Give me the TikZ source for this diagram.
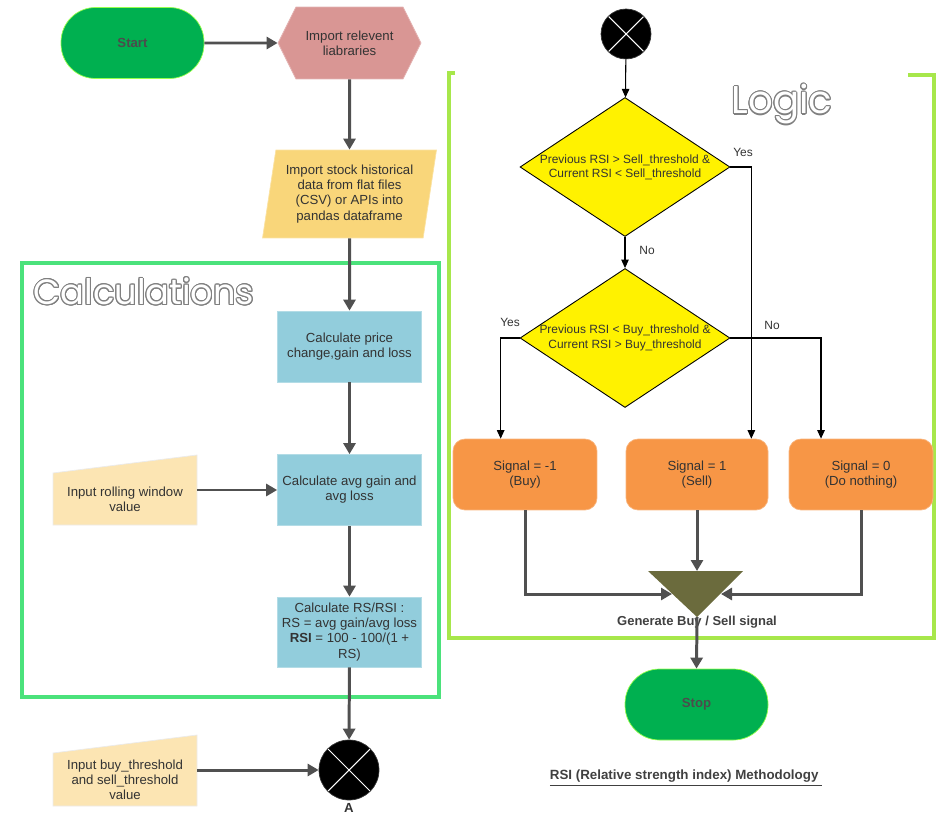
\documentclass[tikz,border=0pt]{standalone}
\usepackage{fontspec}
\setmainfont{Liberation Sans}
\newfontfamily\titlefont{Poppins}
\usepackage[copies]{contour}
\contourlength{0.6pt}
\usetikzlibrary{positioning}
\usetikzlibrary{shapes.geometric, shapes.misc, shapes.symbols}
\usetikzlibrary{arrows.meta}

\definecolor{startgreen}{HTML}{00B050}
\definecolor{libred}{HTML}{D99694}
\definecolor{datayellow}{HTML}{F9D67A}
\definecolor{inputpeach}{HTML}{FCE5B3}
\definecolor{calcblue}{HTML}{92CDDC}
\definecolor{signalorange}{HTML}{F79646}
\definecolor{mergeolive}{HTML}{6B6B3D}
\definecolor{calcframe}{HTML}{4BE27B}
\definecolor{logicframe}{HTML}{A7E74B}
\definecolor{flowgray}{HTML}{505050}
\definecolor{textgray}{HTML}{333333}

\tikzset{
  boxfont/.style={font=\fontsize{7.5}{8.6}\selectfont, text=textgray, align=center, inner sep=1pt},
  lbl/.style={font=\fontsize{6.8}{8}\selectfont, text=black!80},
  terminal/.style={rectangle, rounded corners=0.69cm, fill=startgreen, draw=green!45!lime!70, minimum width=2.86cm, minimum height=1.42cm, font=\fontsize{7.5}{9}\selectfont\bfseries, text=black!70},
  calcbox/.style={boxfont, rectangle, fill=calcblue, draw=calcblue!70!white, minimum width=2.88cm, minimum height=1.42cm},
  signalbox/.style={boxfont, rectangle, rounded corners=0.24cm, fill=signalorange, draw=signalorange!70!white, minimum width=2.88cm, minimum height=1.42cm},
  decision/.style={diamond, aspect=1.51, fill=yellow, draw=black, line width=0.5pt, inner sep=0pt, minimum width=4.2cm, minimum height=2.78cm, font=\fontsize{6.8}{8.1}\selectfont, text=black!80, align=center},
  joint/.style={circle, fill=black, draw=black!80, inner sep=0pt, path picture={\draw[white, line width=0.6pt] (path picture bounding box.north west) -- (path picture bounding box.south east) (path picture bounding box.north east) -- (path picture bounding box.south west);}},
  flow/.style={draw=flowgray, line width=1.7pt, -{Triangle[width=0.24cm,length=0.22cm]}},
  logicflow/.style={draw=black, line width=0.6pt, -{Triangle[width=0.15cm,length=0.17cm]}},
  titlestyle/.style={font=\titlefont\fontsize{20}{20}\selectfont, text=white}
}

\begin{document}
\begin{tikzpicture}[x=0.02cm, y=-0.02cm]
\useasboundingbox (0,0) rectangle (942,831);

% frames
\draw[calcframe, line width=0.08cm] (22,263) rectangle (439,697);
\draw[logicframe, line width=0.08cm] (455,73) -- (449,73) -- (449,638) -- (934,638) -- (934,75) -- (908,75);
\node[titlestyle] (calctitle) at (144,292) {\contour{gray}{Calculations}};
\node[titlestyle, font=\titlefont\fontsize{22}{22}\selectfont] (logictitle) at (782,105) {\contour{gray}{Logic}};

% left column
\node[terminal] (start) at (132.5,43) {Start};
\node[boxfont, signal, signal to=east and west, signal pointer angle=127, fill=libred, draw=libred!70!white, minimum width=2.86cm, minimum height=1.44cm] (libs) at (349.5,43) {Import relevent\\liabraries};
\node[boxfont, trapezium, trapezium left angle=79, trapezium right angle=101, trapezium stretches=true, fill=datayellow, draw=datayellow!70!white, minimum width=3.5cm, minimum height=1.76cm] (stock) at (349.5,194) {Import stock historical\\data from flat files\\(CSV) or APIs into\\pandas dataframe};
\node[calcbox] (change) at (349.5,346.5) {Calculate price\\change,gain and loss};
\node[calcbox] (avg) at (349.5,490) {Calculate avg gain and\\avg loss};
\node[calcbox, minimum height=1.4cm] (rsi) at (349.5,632) {Calculate RS/RSI :\\RS = avg gain/avg loss\\\textbf{RSI} = 100 - 100/(1 +\\RS)};
\node[joint, minimum size=1.2cm, label={[font=\fontsize{7.5}{9}\selectfont\bfseries, text=black!80, inner sep=1.5pt]below:A}] (jointA) at (349,770) {};

\fill[inputpeach, draw=black!8] (53,473) -- (197,455) -- (197,525) -- (53,525) -- cycle;
\node[boxfont, minimum width=2.88cm] (rolling) at (125,499) {Input rolling window\\value};
\fill[inputpeach, draw=black!8] (53,753) -- (197,735) -- (197,806) -- (53,806) -- cycle;
\node[boxfont, minimum width=2.88cm] (thresh) at (125,780) {Input buy\_threshold\\and sell\_threshold\\value};

\draw[flow] (start) -- (libs);
\draw[flow] (libs) -- (stock);
\draw[flow] (stock) -- (change);
\draw[flow] (change) -- (avg);
\draw[flow] (avg) -- (rsi);
\draw[flow] (rsi) -- (jointA);
\draw[flow] (rolling.east |- avg.west) -- (avg.west);
\draw[flow] (thresh.east |- jointA.west) -- (jointA.west);

% logic
\node[joint, minimum size=1cm] (jointB) at (626,34) {};
\node[decision] (sellcheck) at (625,167) {Previous RSI > Sell\_threshold \&\\Current RSI < Sell\_threshold};
\node[decision] (buycheck) at (625,338) {Previous RSI < Buy\_threshold \&\\Current RSI > Buy\_threshold};
\node[signalbox] (buy) at (525,474.5) {Signal = -1\\(Buy)};
\node[signalbox, minimum width=2.84cm] (sell) at (697,474.5) {Signal = 1\\(Sell)};
\node[signalbox] (nothing) at (861,474.5) {Signal = 0\\(Do nothing)};

\node[lbl] (yessell) at (743,152) {Yes};
\node[lbl] (nosell) at (647,250) {No};
\node[lbl] (yesbuy) at (510,322) {Yes};
\node[lbl] (nobuy) at (772,325) {No};

\draw[logicflow] (jointB) -- (sellcheck);
\draw[logicflow] (sellcheck) -- (buycheck);
\draw[logicflow] (sellcheck.east) -| ([xshift=-0.34cm]sell.north east);
\draw[logicflow] (buycheck.west) -| ([xshift=0.96cm]buy.north west);
\draw[logicflow] (buycheck.east) -| ([xshift=-0.8cm]nothing.north);

% merge
\fill[mergeolive] (648,571) -- (743,571) -- (697,617) -- cycle;
\coordinate (mergeT) at (697,571);
\coordinate (mergeL) at (672,594);
\coordinate (mergeR) at (721,594);
\coordinate (mergeB) at (697,617);
\node[font=\fontsize{7.4}{9}\selectfont\bfseries, text=black!75] (genlabel) at (697,622) {Generate Buy / Sell signal};
\node[terminal] (stop) at (696.5,704.5) {Stop};

\draw[flow] (buy.south) |- (mergeL);
\draw[flow] (sell.south) -- (mergeT);
\draw[flow] (nothing.south) |- (mergeR);
\draw[flow] (mergeB) -- (stop.north);

\node[font=\fontsize{7.6}{9}\selectfont\bfseries, text=black!75] (methodtitle) at (686,778) {\underline{RSI (Relative strength index) Methodology\ }};

\end{tikzpicture}
\end{document}
